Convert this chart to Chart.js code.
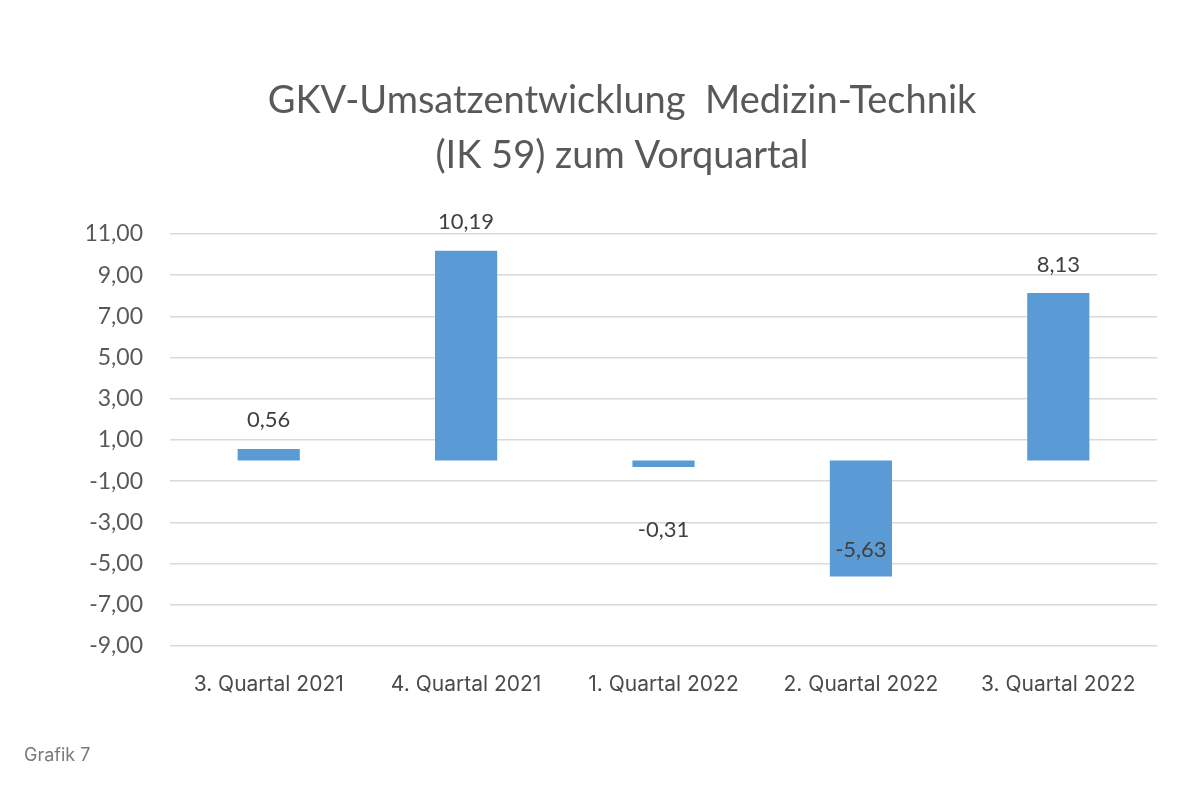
<!DOCTYPE html>
<html>
<head>
<meta charset="utf-8">
<script src="https://cdn.jsdelivr.net/npm/chart.js@4.4.0/dist/chart.umd.min.js"></script>
<style>
html,body{margin:0;padding:0;background:#fff;}
#wrap{position:relative;width:1200px;height:800px;}
#note{position:absolute;left:24px;top:744px;font-family:"Inter",sans-serif;font-size:18px;color:#7a7a7a;}
</style>
</head>
<body>
<div id="wrap">
<canvas id="c" width="1200" height="800"></canvas>
<div id="note">Grafik 7</div>
</div>
<script>
const categories = ["3. Quartal 2021", "4. Quartal 2021", "1. Quartal 2022", "2. Quartal 2022", "3. Quartal 2022"];
const values = [0.56, 10.19, -0.31, -5.63, 8.13];
const titleLines = ["GKV-Umsatzentwicklung  Medizin-Technik", "(IK 59) zum Vorquartal"];
const yMin = -9, yMax = 11, yStep = 2;

const fmt = v => v.toFixed(2).replace('.', ',');

const labelOffsets = [-29, -29, 63, -27, -28];

const dataLabels = {
  id: 'dataLabels',
  afterDatasetsDraw(chart) {
    const ctx = chart.ctx;
    const meta = chart.getDatasetMeta(0);
    ctx.save();
    ctx.font = '22px "Lato", sans-serif';
    ctx.fillStyle = '#404040';
    ctx.textAlign = 'center';
    ctx.textBaseline = 'middle';
    meta.data.forEach((bar, i) => {
      ctx.fillText(fmt(values[i]), bar.x, bar.y + labelOffsets[i]);
    });
    ctx.restore();
  }
};

new Chart(document.getElementById('c'), {
  type: 'bar',
  data: {
    labels: categories,
    datasets: [{
      data: values,
      backgroundColor: '#5b9bd5',
      borderWidth: 0,
      categoryPercentage: 1,
      barPercentage: 0.315
    }]
  },
  options: {
    responsive: false,
    animation: false,
    layout: { padding: { left: 87, right: 43, top: 73, bottom: 94 } },
    plugins: {
      legend: { display: false },
      tooltip: { enabled: false },
      title: {
        display: true,
        text: titleLines,
        color: '#595959',
        font: { family: 'Lato', size: 38, weight: 'normal', lineHeight: 1.447 },
        padding: { top: 0, bottom: 51 }
      }
    },
    scales: {
      x: {
        afterFit(scale) { scale.height = 60; },
        grid: { display: false, drawTicks: false },
        border: { display: false },
        ticks: {
          color: '#4a4a4a',
          font: { family: 'Inter', size: 21 },
          padding: 26,
          maxRotation: 0
        }
      },
      y: {
        min: yMin,
        max: yMax,
        afterFit(scale) { scale.width = 83; },
        afterBuildTicks(scale) {
          const t = [];
          for (let v = yMin; v <= yMax + 1e-9; v += yStep) t.push({ value: v });
          scale.ticks = t;
        },
        grid: { color: '#d9d9d9', lineWidth: 1.5, drawTicks: false },
        border: { display: false },
        ticks: {
          color: '#595959',
          font: { family: 'Lato', size: 23 },
          padding: 27,
          callback: v => fmt(v)
        }
      }
    }
  },
  plugins: [dataLabels]
});
</script>
</body>
</html>
